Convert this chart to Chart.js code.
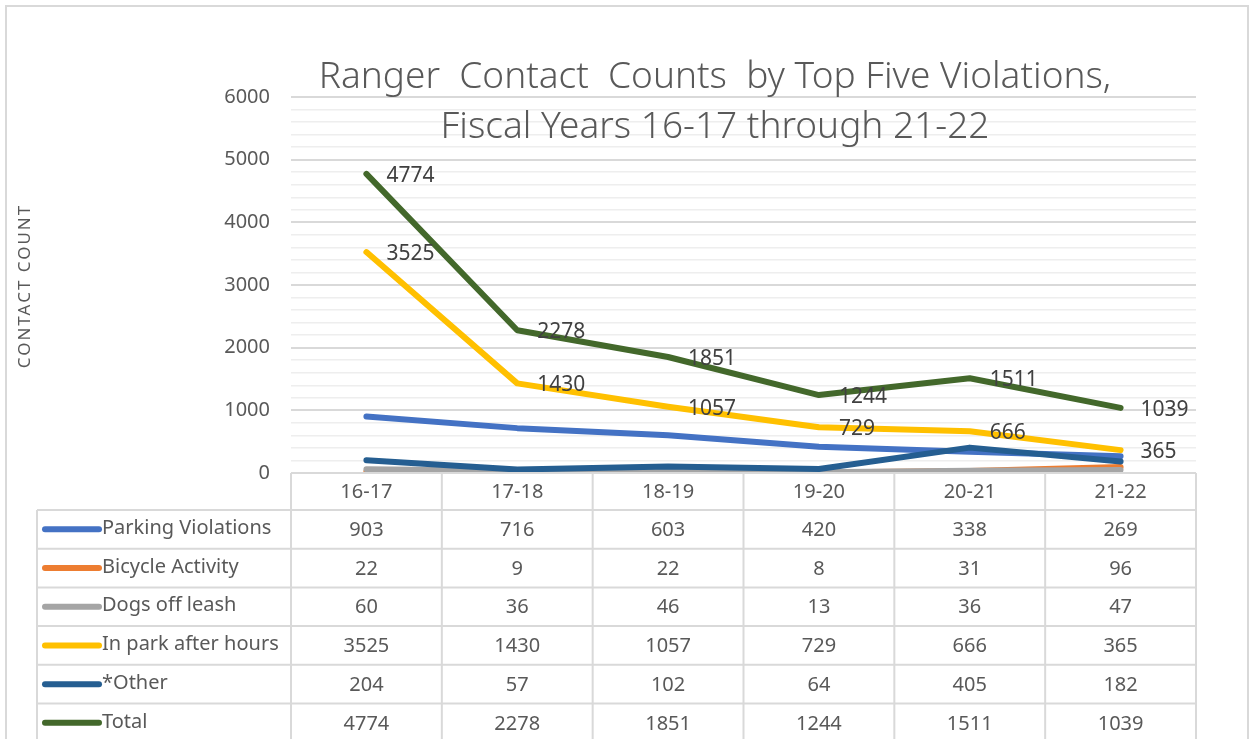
<!DOCTYPE html>
<html>
<head>
<meta charset="utf-8">
<script src="https://cdn.jsdelivr.net/npm/chart.js@4.4.0/dist/chart.umd.min.js"></script>
<style>
  html, body { margin: 0; padding: 0; background: #fff; }
  #wrap { width: 1254px; height: 739px; }
</style>
</head>
<body>
<div id="wrap"><canvas id="myChart" width="1254" height="739"></canvas></div>
<script>
const years = ['16-17', '17-18', '18-19', '19-20', '20-21', '21-22'];
const parking = [903, 716, 603, 420, 338, 269];
const bicycle = [22, 9, 22, 8, 31, 96];
const dogs = [60, 36, 46, 13, 36, 47];
const afterHours = [3525, 1430, 1057, 729, 666, 365];
const other = [204, 57, 102, 64, 405, 182];
const total = [4774, 2278, 1851, 1244, 1511, 1039];

const seriesNames = ['Parking Violations', 'Bicycle Activity', 'Dogs off leash', 'In park after hours', '*Other', 'Total'];
const seriesColors = ['#4472C4', '#ED7D31', '#A5A5A5', '#FFC000', '#255E91', '#43682B'];
const seriesData = [parking, bicycle, dogs, afterHours, other, total];
const labelled = [false, false, false, true, false, true];

const titleLines = ['Ranger  Contact  Counts  by Top Five Violations,', 'Fiscal Years 16-17 through 21-22'];
const yTitle = 'CONTACT COUNT';

const FONT = '"Noto Sans", "Open Sans", sans-serif';
const TEXT = '#595959';
const LINE = '#d9d9d9';

const ctx = document.getElementById('myChart');

const datasets = seriesData.map((data, i) => ({
    label: seriesNames[i],
    data,
    borderColor: seriesColors[i],
    backgroundColor: seriesColors[i],
    borderWidth: 6,
    borderCapStyle: 'round',
    borderJoinStyle: 'round',
    pointRadius: 0,
    tension: 0,
    order: seriesData.length - i,
    showLabels: labelled[i]
}));

// frame, title and y axis title
const decor = {
    id: 'decor',
    beforeDraw(chart) {
        const c = chart.ctx;
        c.save();
        c.strokeStyle = LINE;
        c.lineWidth = 2;
        c.strokeRect(6, 6, 1242, 760);
        c.restore();
    },
    afterDraw(chart) {
        const c = chart.ctx;
        c.save();
        c.fillStyle = TEXT;
        c.textAlign = 'center';
        c.textBaseline = 'middle';
        c.font = '300 37px ' + FONT;
        c.fillText(titleLines[0], 715, 77);
        c.fillText(titleLines[1], 715, 127);

        c.translate(25, 286);
        c.rotate(-Math.PI / 2);
        c.font = '17px ' + FONT;
        c.letterSpacing = '2px';
        c.fillText(yTitle, 0, 0);
        c.restore();
    }
};

// value labels to the right of the points
const pointLabels = {
    id: 'pointLabels',
    afterDatasetsDraw(chart) {
        const c = chart.ctx;
        c.save();
        c.font = '21px ' + FONT;
        c.fillStyle = '#404040';
        c.textAlign = 'left';
        c.textBaseline = 'middle';
        chart.data.datasets.forEach((ds, i) => {
            if (!ds.showLabels) return;
            chart.getDatasetMeta(i).data.forEach((pt, j) => {
                c.fillText(ds.data[j], pt.x + 20, pt.y + 2);
            });
        });
        c.restore();
    }
};

// data table under the plot
const dataTable = {
    id: 'dataTable',
    afterDraw(chart) {
        const c = chart.ctx;
        const area = chart.chartArea;
        const xs = chart.scales.x;
        const colW = area.width / years.length;
        const top = area.bottom;
        const headH = 37;
        const rowH = 38.7;
        const legLeft = 37;
        const bottom = top + headH + rowH * seriesData.length;

        c.save();
        c.strokeStyle = LINE;
        c.lineWidth = 2;
        c.beginPath();
        c.moveTo(area.left, top);
        c.lineTo(area.right, top);
        for (let r = 0; r <= seriesData.length; r++) {
            const y = top + headH + r * rowH;
            c.moveTo(legLeft, y);
            c.lineTo(area.right, y);
        }
        for (let k = 0; k <= years.length; k++) {
            const x = area.left + k * colW;
            c.moveTo(x, top);
            c.lineTo(x, bottom);
        }
        c.moveTo(legLeft, top + headH);
        c.lineTo(legLeft, bottom);
        c.stroke();

        c.fillStyle = TEXT;
        c.font = '20px ' + FONT;
        c.textBaseline = 'middle';
        c.textAlign = 'center';
        years.forEach((y, k) => {
            c.fillText(y, xs.getPixelForValue(k), top + headH / 2 + 1);
        });

        seriesData.forEach((data, r) => {
            const cy = top + headH + r * rowH + rowH / 2 + 1;
            c.textAlign = 'center';
            data.forEach((v, k) => c.fillText(v, xs.getPixelForValue(k), cy));

            c.strokeStyle = seriesColors[r];
            c.lineWidth = 6;
            c.lineCap = 'round';
            c.beginPath();
            c.moveTo(45, cy - 1);
            c.lineTo(99, cy - 1);
            c.stroke();

            c.textAlign = 'left';
            c.fillText(seriesNames[r], 102, cy - 2);
        });
        c.restore();
    }
};

const config = {
    type: 'line',
    data: { labels: years, datasets },
    options: {
        responsive: false,
        animation: false,
        layout: { padding: { top: 97, bottom: 266, right: 58, left: 0 } },
        plugins: {
            legend: { display: false },
            title: { display: false },
            tooltip: { enabled: false }
        },
        scales: {
            x: { type: 'category', offset: true, display: false },
            y: {
                min: 0,
                max: 6000,
                afterFit: (s) => { s.width = 291; },
                border: { display: false },
                grid: {
                    drawTicks: false,
                    color: (c) => c.tick.value % 1000 === 0 ? '#d9d9d9' : '#eeeeee',
                    lineWidth: (c) => c.tick.value % 1000 === 0 ? 2 : 1.5
                },
                ticks: {
                    stepSize: 200,
                    autoSkip: false,
                    padding: 21,
                    color: TEXT,
                    font: { family: FONT, size: 20 },
                    callback: (v) => v % 1000 === 0 ? v : ''
                }
            }
        }
    },
    plugins: [decor, pointLabels, dataTable]
};

new Chart(ctx, config);
</script>
</body>
</html>
